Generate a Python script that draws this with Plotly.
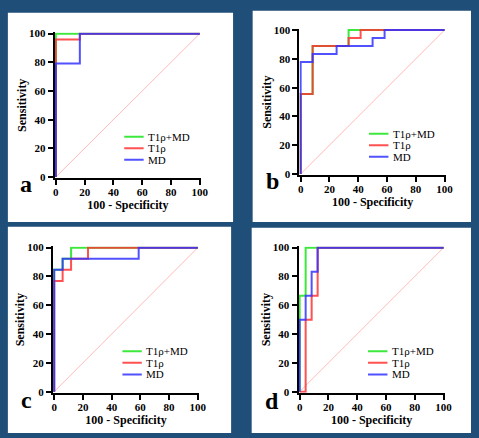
import plotly.graph_objects as go

# ---------------- data (100 - Specificity, Sensitivity) ----------------
series_names = ["T1ρ+MD", "T1ρ", "MD"]
tick_vals = [0, 20, 40, 60, 80, 100]
panel_letters = ["a", "b", "c", "d"]

a_combo_x = [0, 0, 100]
a_combo_y = [0, 100, 100]
a_t1rho_x = [0, 0, 16.67, 100]
a_t1rho_y = [0, 95.83, 100, 100]
a_md_x = [0, 0, 16.67, 100]
a_md_y = [0, 79.17, 100, 100]

b_combo_x = [0, 0, 8.33, 33.33, 100]
b_combo_y = [0, 55.56, 88.89, 100, 100]
b_t1rho_x = [0, 0, 8.33, 33.33, 41.67, 100]
b_t1rho_y = [0, 55.56, 88.89, 94.44, 100, 100]
b_md_x = [0, 0, 8.33, 25, 50, 58.33, 100]
b_md_y = [0, 77.78, 83.33, 88.89, 94.44, 100, 100]

c_combo_x = [0, 0, 5.88, 11.76, 100]
c_combo_y = [0, 84.62, 92.31, 100, 100]
c_t1rho_x = [0, 0, 5.88, 11.76, 23.53, 100]
c_t1rho_y = [0, 76.92, 84.62, 92.31, 100, 100]
c_md_x = [0, 0, 5.88, 58.82, 100]
c_md_y = [0, 84.62, 92.31, 100, 100]

d_combo_x = [0, 0, 4.17, 100]
d_combo_y = [0, 66.67, 100, 100]
d_t1rho_x = [0, 4.17, 8.33, 12.5, 100]
d_t1rho_y = [0, 50, 66.67, 100, 100]
d_md_x = [0, 0, 4.17, 8.33, 12.5, 100]
d_md_y = [0, 50, 66.67, 83.33, 100, 100]

ref_x = [0, 100]
ref_y = [0, 100]

panels = [
    [(a_combo_x, a_combo_y), (a_t1rho_x, a_t1rho_y), (a_md_x, a_md_y)],
    [(b_combo_x, b_combo_y), (b_t1rho_x, b_t1rho_y), (b_md_x, b_md_y)],
    [(c_combo_x, c_combo_y), (c_t1rho_x, c_t1rho_y), (c_md_x, c_md_y)],
    [(d_combo_x, d_combo_y), (d_t1rho_x, d_t1rho_y), (d_md_x, d_md_y)],
]

# ---------------- styling / layout geometry ----------------
W, H = 479, 438
BG = "#1F4E79"
colors = ["rgba(40,230,40,0.9)", "rgba(255,50,50,0.85)", "rgba(50,50,255,0.85)"]
SERIF = "Liberation Serif"
PAD = 0.8

# pixel positions of data 0 and 100 on each panel: (x0, x100, y100, y0)
plot_px = [
    (55.0, 202.0, 29.3, 176.0),
    (305.0, 452.0, 25.7, 173.0),
    (53.3, 200.0, 248.3, 395.7),
    (304.0, 451.0, 248.3, 395.7),
]
# white card rectangles (px): x0, y0, x1, y1
cards = [(6, 8, 236, 222), (256, 6, 479, 222), (6, 227, 234, 438), (255, 228, 479, 438)]
letter_pos = [(25, 183), (276, 180), (25, 404), (276, 405)]

fig = go.Figure()
layout = dict(
    width=W, height=H,
    margin=dict(l=0, r=0, t=0, b=0),
    paper_bgcolor=BG, plot_bgcolor="white",
    showlegend=False,
    font=dict(family=SERIF),
    shapes=[], annotations=[],
)

for i, (curves, (x0p, x100p, y100p, y0p)) in enumerate(zip(panels, plot_px)):
    sfx = "" if i == 0 else str(i + 1)
    xa, ya = "x" + sfx, "y" + sfx
    sx = (x100p - x0p) / 100.0
    sy = (y0p - y100p) / 100.0
    left = x0p - PAD * sx
    right = x100p + PAD * sx
    top = y100p - PAD * sy
    bottom = y0p + PAD * sy

    # reference diagonal
    fig.add_trace(go.Scatter(x=ref_x, y=ref_y, mode="lines", xaxis=xa, yaxis=ya,
                             line=dict(color="rgba(255,110,110,0.6)", width=0.8),
                             hoverinfo="skip"))
    for (cx, cy), col, nm in zip(curves, colors, series_names):
        fig.add_trace(go.Scatter(x=cx, y=cy, mode="lines", name=nm, xaxis=xa, yaxis=ya,
                                 line=dict(color=col, width=2, shape="hv")))

    axis_common = dict(
        range=[-PAD, 100 + PAD], tickvals=tick_vals, showgrid=False, zeroline=False,
        showline=True, linecolor="black", linewidth=2,
        ticks="outside", ticklen=5, tickwidth=2, tickcolor="black",
        tickfont=dict(family=SERIF, size=11, color="black", weight="bold"),
        fixedrange=True,
    )
    layout["xaxis" + sfx] = dict(
        axis_common, domain=[left / W, right / W], anchor=ya,
        ticklabelstandoff=-2,
        title=dict(text="100 - Specificity", standoff=0,
                   font=dict(family=SERIF, size=12, color="black", weight="bold")),
    )
    layout["yaxis" + sfx] = dict(
        axis_common, domain=[1 - bottom / H, 1 - top / H], anchor=xa,
        title=dict(text="Sensitivity", standoff=0,
                   font=dict(family=SERIF, size=12, color="black", weight="bold")),
    )

    # white card
    cx0, cy0, cx1, cy1 = cards[i]
    layout["shapes"].append(dict(type="rect", xref="paper", yref="paper", layer="below",
                                 x0=cx0 / W, x1=cx1 / W, y0=1 - cy1 / H, y1=1 - cy0 / H,
                                 fillcolor="white", line=dict(width=0)))
    # manual legend
    for k, (col, nm) in enumerate(zip(colors, series_names)):
        ly = 28 - 8 * k
        layout["shapes"].append(dict(type="line", xref=xa, yref=ya, x0=47.5, x1=61, y0=ly, y1=ly,
                                     line=dict(color=col, width=2)))
        layout["annotations"].append(dict(xref=xa, yref=ya, x=62.5, y=ly, text=nm, showarrow=False,
                                          xanchor="left", yanchor="middle",
                                          font=dict(family=SERIF, size=11, color="black")))
    # panel letter
    lx, ly = letter_pos[i]
    layout["annotations"].append(dict(xref="paper", yref="paper", x=lx / W, y=1 - ly / H,
                                      text=panel_letters[i], showarrow=False,
                                      xanchor="center", yanchor="middle",
                                      font=dict(family=SERIF, size=24, color="black", weight="bold")))

fig.update_layout(**layout)
fig.write_html("out.html", config={"displayModeBar": False},
               post_script="document.body.style.margin='0';document.body.style.padding='0';")
